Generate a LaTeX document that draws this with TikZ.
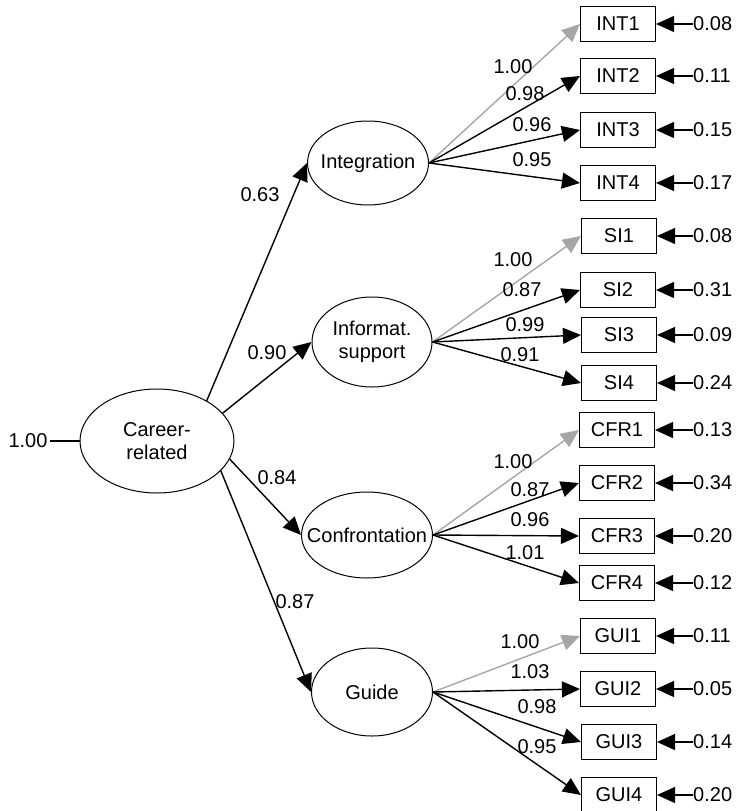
\documentclass[tikz,border=0pt]{standalone}
\usepackage{fontspec}
\setmainfont{Liberation Sans}
\usetikzlibrary{arrows.meta,shapes.geometric}
\begin{document}
\begin{tikzpicture}[x=1pt,y=-1pt,
  every node/.style={font=\fontsize{20}{23}\selectfont, inner sep=0pt},
  latent/.style={draw, ellipse, line width=1pt},
  obs/.style={draw, rectangle, line width=1.1pt, minimum width=75pt, minimum height=35pt},
  arr/.style={line width=1.4pt, -{Triangle[length=18pt,width=16pt]}},
  fixarr/.style={arr, draw=gray!70, color=gray!70},
  err/.style={line width=1.4pt, -{Triangle[length=18pt,width=16pt]}}]
\clip (0,0) rectangle (738,811);
% latent variables
\node[latent, minimum width=154pt, minimum height=104pt,
  label={[align=center]center:Career-\\related}] (car) at (157,441) {};
\node[latent, minimum width=121pt, minimum height=84pt,
  label={center:Integration}] (int) at (368,163) {};
\node[latent, minimum width=120pt, minimum height=90pt,
  label={[align=center]center:Informat.\\support}] (inf) at (372,342) {};
\node[latent, minimum width=131pt, minimum height=86pt,
  label={center:Confrontation}] (cfr) at (367,535) {};
\node[latent, minimum width=121pt, minimum height=88pt,
  label={center:Guide}] (gui) at (372,692) {};
% variance of career
\node (cv) at (28,441) {1.00};
\draw[line width=1.4pt] (cv.east) ++(2,0) coordinate (cvs) -- (car.west);
% structural paths
\draw[arr] (car.39) -- (int.west);
\draw[arr] (car.23) -- (inf.west);
\draw[arr] (car.-14) -- (cfr.west);
\draw[arr] (car.-25) -- (gui.west);
\node (s1) at (260,195) {0.63};
\node (s2) at (267,353) {0.90};
\node (s3) at (277,478) {0.84};
\node (s4) at (295,602) {0.87};
% indicator boxes
\node[obs] (i1) at (618,24) {INT1};
\node[obs] (i2) at (618,76) {INT2};
\node[obs] (i3) at (618,130) {INT3};
\node[obs] (i4) at (618,183) {INT4};
\node[obs] (n1) at (619,236) {SI1};
\node[obs] (n2) at (618,290) {SI2};
\node[obs] (n3) at (619,335) {SI3};
\node[obs] (n4) at (619,383) {SI4};
\node[obs] (c1) at (617,430) {CFR1};
\node[obs] (c2) at (617,483) {CFR2};
\node[obs] (c3) at (617,536) {CFR3};
\node[obs] (c4) at (617,583) {CFR4};
\node[obs] (g1) at (618,636) {GUI1};
\node[obs] (g2) at (618,689) {GUI2};
\node[obs] (g3) at (619,742) {GUI3};
\node[obs] (g4) at (619,795) {GUI4};
% loadings
\draw[fixarr] (int.east) -- (i1.west);
\draw[arr] (int.east) -- (i2.west);
\draw[arr] (int.east) -- (i3.west);
\draw[arr] (int.east) -- (i4.west);
\draw[fixarr] (inf.east) -- (n1.west);
\draw[arr] (inf.east) -- (n2.west);
\draw[arr] (inf.east) -- (n3.west);
\draw[arr] (inf.east) -- (n4.west);
\draw[fixarr] (cfr.east) -- (c1.west);
\draw[arr] (cfr.east) -- (c2.west);
\draw[arr] (cfr.east) -- (c3.west);
\draw[arr] (cfr.east) -- (c4.west);
\draw[fixarr] (gui.east) -- (g1.west);
\draw[arr] (gui.east) -- (g2.west);
\draw[arr] (gui.east) -- (g3.west);
\draw[arr] (gui.east) -- (g4.west);
% loading labels
\node (li1) at (513,67) {1.00};
\node (li2) at (525,94) {0.98};
\node (li3) at (532,125) {0.96};
\node (li4) at (532,160) {0.95};
\node (ln1) at (513,260) {1.00};
\node (ln2) at (522,290) {0.87};
\node (ln3) at (525,325) {0.99};
\node (ln4) at (520,355) {0.91};
\node (lc1) at (513,462) {1.00};
\node (lc2) at (530,490) {0.87};
\node (lc3) at (530,520) {0.96};
\node (lc4) at (525,553) {1.01};
\node (lg1) at (520,642) {1.00};
\node (lg2) at (530,672) {1.03};
\node (lg3) at (537,707) {0.98};
\node (lg4) at (537,747) {0.95};
% error variances
\foreach \b/\v in {i1/0.08,i2/0.11,i3/0.15,i4/0.17,n1/0.08,n2/0.31,n3/0.09,n4/0.24,c1/0.13,c2/0.34,c3/0.20,c4/0.12,g1/0.11,g2/0.05,g3/0.14,g4/0.20}{
  \node[anchor=west] (e\b) at (693,0 |- \b.center) {\v};
  \draw[err] (e\b.west) -- (\b.east);
}
\end{tikzpicture}
\end{document}
